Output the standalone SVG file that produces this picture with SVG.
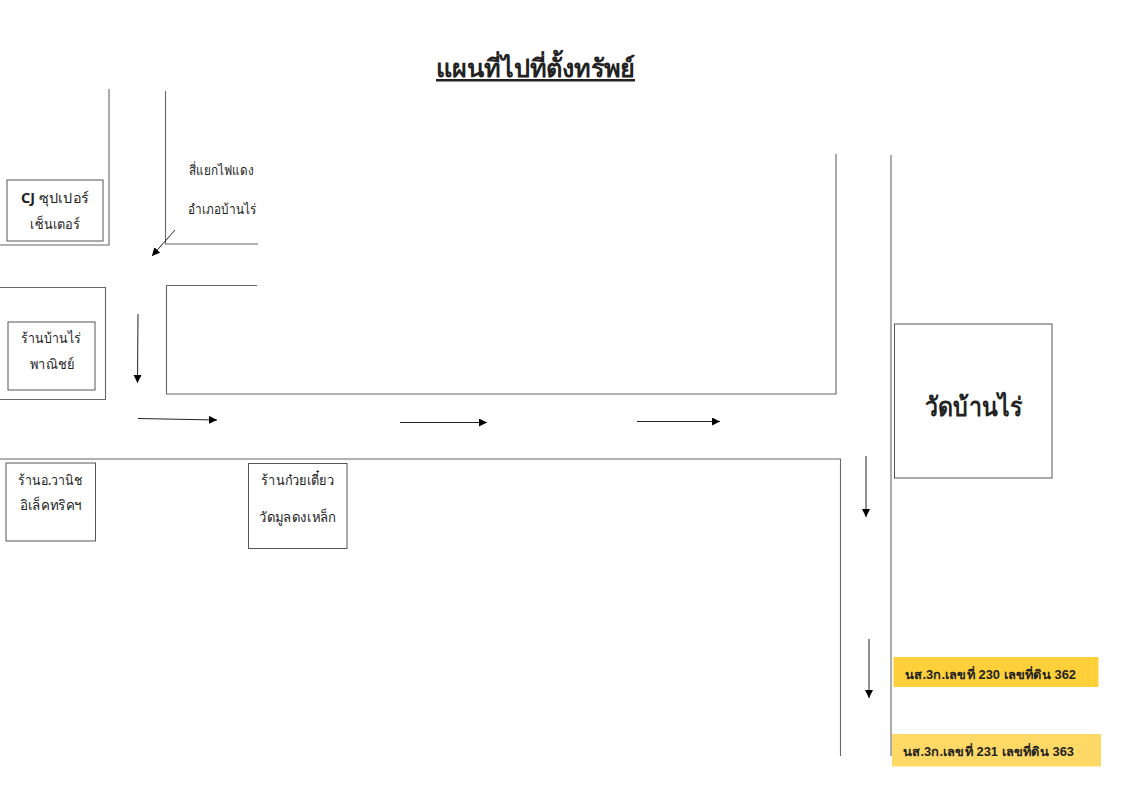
<svg xmlns="http://www.w3.org/2000/svg" width="1132" height="800" viewBox="0 0 1132 800">
<style>
text{font-family:"Noto Sans","DejaVu Sans","Liberation Sans",sans-serif;text-anchor:middle;fill:#222}
.b{font-weight:500;font-size:14px}
.box{fill:#fff;stroke:#555;stroke-width:1}
.road{fill:none;stroke:#666;stroke-width:1.1}
.arr{fill:none;stroke:#222;stroke-width:1;marker-end:url(#a)}
.lot{font-family:"Liberation Sans","Noto Sans",sans-serif;font-weight:700;font-size:12.5px;text-anchor:start}
</style>
<defs><marker id="a" markerUnits="userSpaceOnUse" markerWidth="10" markerHeight="10" refX="8" refY="4" orient="auto"><path d="M0 0L8 4L0 8Z" fill="#000"/></marker></defs>
<rect width="1132" height="800" fill="#fff"/>
<g id="title"><text x="535.500" y="77" font-size="25" textLength="199" lengthAdjust="spacingAndGlyphs" style="font-weight:700;text-decoration:underline">แผนที่ไปที่ตั้งทรัพย์</text></g>
<g id="connectors">
<path class="road" d="M109 89V245H0"/>
<path class="road" d="M165.500 91V244H258"/>
<path class="road" d="M257 285.500H166.500V394H836V154"/>
<path class="road" d="M0 287.500H105.500V399.500H0"/>
<path class="road" d="M0 459H840.500V756"/>
<path class="road" d="M891 155V756"/>
<path class="arr" d="M175 230L152 256"/>
<path class="arr" d="M138 314L137.500 383"/>
<path class="arr" d="M138 418.500L217 420"/>
<path class="arr" d="M400 422.500H487"/>
<path class="arr" d="M637 421.500H720"/>
<path class="arr" d="M866 456V517"/>
<path class="arr" d="M869 639V698"/>
</g>
<g id="traffic-light"><text x="221.500" y="175" font-size="13.500" textLength="65" lengthAdjust="spacingAndGlyphs">สี่แยกไฟแดง</text><text x="222" y="214" font-size="13.500" textLength="68" lengthAdjust="spacingAndGlyphs">อำเภอบ้านไร่</text></g>
<g id="cj"><rect class="box" x="7" y="180" width="96" height="61"/><text class="b" x="55" y="203" textLength="68" lengthAdjust="spacingAndGlyphs"><tspan style="font-weight:700">CJ</tspan> ซุปเปอร์</text><text class="b" x="55" y="229" textLength="50" lengthAdjust="spacingAndGlyphs">เซ็นเตอร์</text></g>
<g id="banrai-shop"><rect class="box" x="8" y="322" width="87" height="68"/><text class="b" x="51" y="343" textLength="60" lengthAdjust="spacingAndGlyphs">ร้านบ้านไร่</text><text class="b" x="52" y="369" textLength="44" lengthAdjust="spacingAndGlyphs">พาณิชย์</text></g>
<g id="wanich"><rect class="box" x="6" y="463" width="89.500" height="78"/><text class="b" x="50.500" y="485" textLength="65" lengthAdjust="spacingAndGlyphs">ร้านอ.วานิช</text><text class="b" x="51" y="510" textLength="62" lengthAdjust="spacingAndGlyphs">อิเล็คทริคฯ</text></g>
<g id="noodle"><rect class="box" x="248.500" y="463.500" width="98.500" height="85"/><text class="b" x="297.500" y="485" textLength="73" lengthAdjust="spacingAndGlyphs">ร้านก๋วยเตี๋ยว</text><text class="b" x="297.500" y="522" textLength="77" lengthAdjust="spacingAndGlyphs">วัดมูลดงเหล็ก</text></g>
<g id="temple"><rect class="box" x="894.500" y="324" width="157.500" height="154"/><text x="973.500" y="416" font-size="26" textLength="97" lengthAdjust="spacingAndGlyphs" style="font-weight:600">วัดบ้านไร่</text></g>
<g id="lot-230"><rect x="893.500" y="657" width="205" height="30" fill="#ffd03a"/><text class="lot" x="905" y="679" textLength="171" lengthAdjust="spacingAndGlyphs">นส.3ก.เลขที่ 230 เลขที่ดิน 362</text></g>
<g id="lot-231"><rect x="892" y="734" width="209" height="32.500" fill="#ffd966"/><text class="lot" x="903" y="756" textLength="171" lengthAdjust="spacingAndGlyphs">นส.3ก.เลขที่ 231 เลขที่ดิน 363</text></g>
</svg>
